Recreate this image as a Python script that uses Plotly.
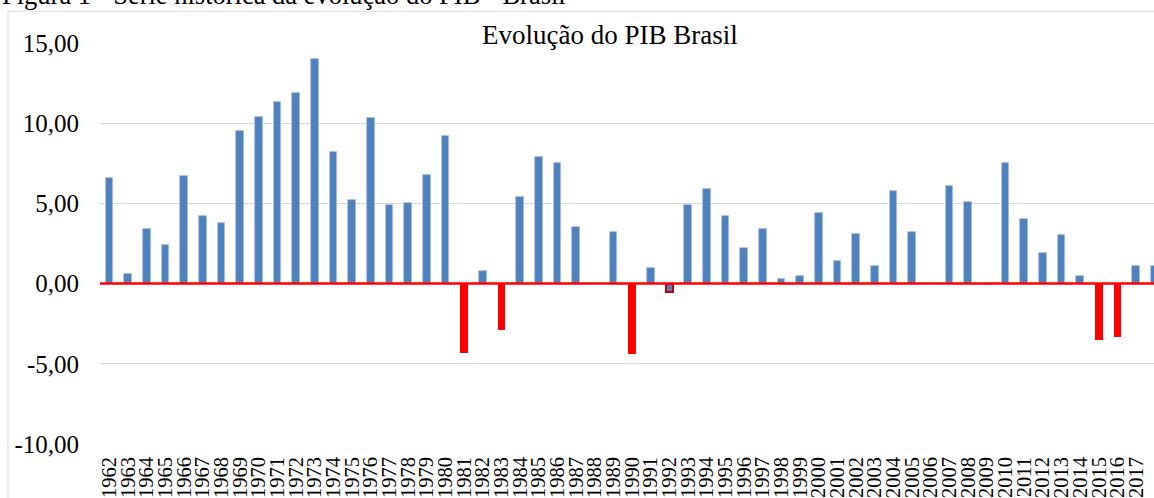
import plotly.graph_objects as go

# ---- data ----
years = [str(y) for y in range(1962, 2019)]
pib = [6.6, 0.6, 3.4, 2.4, 6.7, 4.2, 3.8, 9.5, 10.4, 11.3,
       11.9, 14.0, 8.2, 5.2, 10.3, 4.9, 5.0, 6.8, 9.2, -4.3,
       0.8, -2.9, 5.4, 7.9, 7.5, 3.5, None, 3.2, -4.4, 1.0,
       -0.5, 4.9, 5.9, 4.2, 2.2, 3.4, 0.3, 0.5, 4.4, 1.4,
       3.1, 1.1, 5.8, 3.2, None, 6.1, 5.1, -0.1, 7.5, 4.0,
       1.9, 3.0, 0.5, -3.5, -3.3, 1.1, 1.1]
y_ticks = [15, 10, 5, 0, -5, -10]
y_tick_text = ["15,00", "10,00", "5,00", "0,00", "-5,00", "-10,00"]
outlined_years = ["1992"]

title_text = "Evolução do PIB Brasil"
caption_text = "Figura 1 - Série histórica da evolução do PIB - Brasil"

# ---- styling ----
BLUE = "#4F81BD"
RED = "#FF0000"
FONT = "Liberation Serif, Times New Roman, serif"

W, H = 1154, 498
ML, MR, MT, MB = 100, 0, 43, 51
PW, PH = W - ML - MR, H - MT - MB


def px_x(px):
    return (px - ML) / PW


def px_y(py):
    return (H - MB - py) / PH


fill = []
line_col = []
line_w = []
for yr, v in zip(years, pib):
    if v is not None and v <= -1:
        fill.append(RED)
        line_col.append(RED)
        line_w.append(0)
    else:
        fill.append(BLUE)
        if yr in outlined_years:
            line_col.append("#C00000")
            line_w.append(2)
        else:
            line_col.append("#A9C0E0")
            line_w.append(0.8)

fig = go.Figure()
fig.add_trace(go.Bar(
    x=years, y=pib, width=0.41,
    marker=dict(color=fill, line=dict(color=line_col, width=line_w)),
    showlegend=False,
))

cat_px = 18.67
x_end = -0.5 + PW / cat_px

fig.update_layout(
    width=W, height=H,
    margin=dict(l=ML, r=MR, t=MT, b=MB, pad=0),
    paper_bgcolor="white", plot_bgcolor="white",
    font=dict(family=FONT, color="black"),
    bargap=0,
    xaxis=dict(
        type="category", range=[-0.5, x_end],
        tickmode="array", tickvals=years, ticktext=years,
        tickangle=-90, tickfont=dict(size=20.5, family=FONT, color="black"),
        showgrid=False, showline=False, zeroline=False,
        ticks="", ticklabelstandoff=8,
    ),
    yaxis=dict(
        range=[-10, 15], tickvals=y_ticks, ticktext=y_tick_text,
        tickfont=dict(size=25, family=FONT, color="black"),
        showgrid=True, gridcolor="#D9D9D9", gridwidth=1.3,
        zeroline=False, showline=False, ticks="",
        ticklabelstandoff=20,
    ),
    shapes=[
        dict(type="line", xref="paper", yref="y", x0=0, x1=1.02, y0=0, y1=0,
             line=dict(color=RED, width=2.5), layer="above"),
        dict(type="rect", xref="paper", yref="paper",
             x0=px_x(8), x1=px_x(1170), y0=px_y(11), y1=px_y(520),
             line=dict(color="#D9D9D9", width=1), fillcolor="rgba(0,0,0,0)",
             layer="below"),
    ],
    annotations=[
        dict(text=title_text, xref="paper", yref="paper",
             x=px_x(609.5), y=px_y(45.7 + 5.8 + 1), xanchor="center", yanchor="bottom",
             showarrow=False, bgcolor="white",
             font=dict(size=27, family=FONT, color="black")),
        dict(text=caption_text, xref="paper", yref="paper",
             x=px_x(0), y=px_y(5 + 5.7 + 1), xanchor="left", yanchor="bottom",
             showarrow=False,
             font=dict(size=26.5, family=FONT, color="black")),
    ],
)

fig.write_html("out.html", config={"displayModeBar": False},
               post_script="document.body.style.margin='0';")
